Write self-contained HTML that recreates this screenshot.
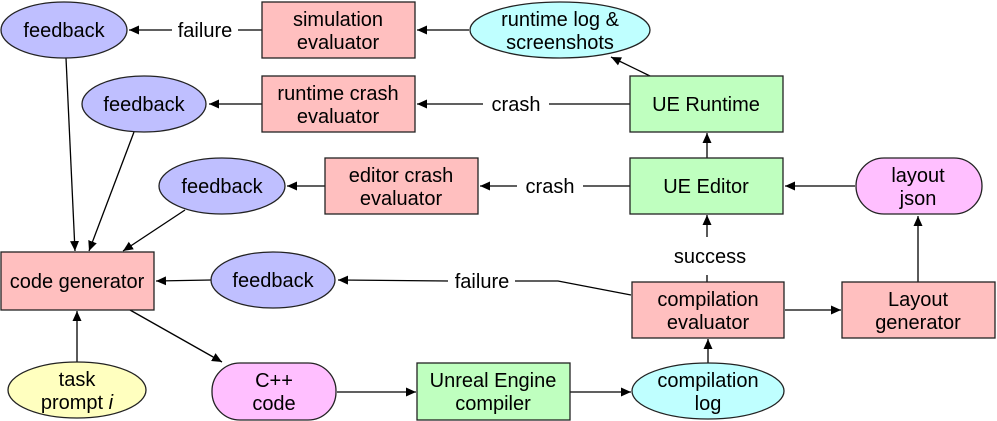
<!DOCTYPE html>
<html><head><meta charset="utf-8"><style>
html,body{margin:0;padding:0;background:#fff;}
svg{display:block;}
text{font-family:"Liberation Sans",Arial,sans-serif;font-size:20px;fill:#000;text-anchor:middle;}
.n{stroke:#222;stroke-width:1.3;}
.e{stroke:#000;stroke-width:1.3;fill:none;}
</style></head><body>
<svg width="997" height="421" viewBox="0 0 997 421" xmlns="http://www.w3.org/2000/svg">
<defs>
<marker id="a" viewBox="0 0 10 10" refX="10" refY="5" markerWidth="10" markerHeight="10" markerUnits="userSpaceOnUse" orient="auto">
<path d="M0,0.5 L10,5 L0,9.5 z" fill="#000"/></marker>
</defs>
<path class="e" d="M262,30 L238,30 M172,30 L129,30" marker-end="url(#a)"/>
<path class="e" d="M469,30 L417,30" marker-end="url(#a)"/>
<path class="e" d="M630,104 L549,104 M483,104 L417,104" marker-end="url(#a)"/>
<path class="e" d="M630,186 L583,186 M517,186 L480,186" marker-end="url(#a)"/>
<path class="e" d="M262,104 L209,104" marker-end="url(#a)"/>
<path class="e" d="M325,186 L287,186" marker-end="url(#a)"/>
<path class="e" d="M650,76 L611,57" marker-end="url(#a)"/>
<path class="e" d="M707,158 L707,133" marker-end="url(#a)"/>
<path class="e" d="M707,282 L707,275 M707,237 L707,215" marker-end="url(#a)"/>
<path class="e" d="M855,186 L785,186" marker-end="url(#a)"/>
<path class="e" d="M918,282 L918,216" marker-end="url(#a)"/>
<path class="e" d="M785,310 L841,310" marker-end="url(#a)"/>
<path class="e" d="M708,363 L708,339" marker-end="url(#a)"/>
<path class="e" d="M570,392 L631,392" marker-end="url(#a)"/>
<path class="e" d="M337,392 L416,392" marker-end="url(#a)"/>
<path class="e" d="M631,295 L558,281 L515,281 M448,281 L338,280" marker-end="url(#a)"/>
<path class="e" d="M211,280 L156,281" marker-end="url(#a)"/>
<path class="e" d="M66,58 L75,251" marker-end="url(#a)"/>
<path class="e" d="M134,132 L89,251" marker-end="url(#a)"/>
<path class="e" d="M185,210 L123,251" marker-end="url(#a)"/>
<path class="e" d="M77,362 L77,311" marker-end="url(#a)"/>
<path class="e" d="M130,310 L222,362" marker-end="url(#a)"/>
<ellipse class="n" cx="64" cy="30" rx="63" ry="28" fill="#bfbfff"/>
<ellipse class="n" cx="144" cy="104" rx="62" ry="28" fill="#bfbfff"/>
<ellipse class="n" cx="222" cy="186" rx="63" ry="28" fill="#bfbfff"/>
<ellipse class="n" cx="273" cy="280" rx="62" ry="28" fill="#bfbfff"/>
<ellipse class="n" cx="560" cy="30" rx="90" ry="28" fill="#bfffff"/>
<ellipse class="n" cx="708" cy="391" rx="76" ry="28" fill="#bfffff"/>
<ellipse class="n" cx="77" cy="390" rx="69" ry="28" fill="#ffffbf"/>
<rect class="n" x="262" y="2" width="153" height="56" fill="#ffbfbf"/>
<rect class="n" x="262" y="76" width="153" height="56" fill="#ffbfbf"/>
<rect class="n" x="325" y="158" width="153" height="56" fill="#ffbfbf"/>
<rect class="n" x="1" y="252" width="153" height="58" fill="#ffbfbf"/>
<rect class="n" x="632" y="282" width="152" height="56" fill="#ffbfbf"/>
<rect class="n" x="842" y="282" width="153" height="56" fill="#ffbfbf"/>
<rect class="n" x="630" y="76" width="153" height="56" fill="#bfffbf"/>
<rect class="n" x="630" y="158" width="153" height="56" fill="#bfffbf"/>
<rect class="n" x="417" y="363" width="153" height="57" fill="#bfffbf"/>
<rect class="n" x="856" y="158" width="126" height="56" rx="28" fill="#ffbfff"/>
<rect class="n" x="212" y="363" width="124" height="57" rx="28" fill="#ffbfff"/>
<text x="64" y="37">feedback</text>
<text x="144" y="111">feedback</text>
<text x="222" y="193">feedback</text>
<text x="273" y="287">feedback</text>
<text x="205" y="37">failure</text>
<text x="482" y="288">failure</text>
<text x="516" y="111">crash</text>
<text x="550" y="193">crash</text>
<text x="710" y="263">success</text>
<text x="338" y="26">simulation</text><text x="338" y="49">evaluator</text>
<text x="338" y="100">runtime crash</text><text x="338" y="123">evaluator</text>
<text x="401" y="182">editor crash</text><text x="401" y="205">evaluator</text>
<text x="560" y="26">runtime log &amp;</text><text x="560" y="49">screenshots</text>
<text x="706" y="111">UE Runtime</text>
<text x="706" y="193">UE Editor</text>
<text x="918" y="182">layout</text><text x="918" y="205">json</text>
<text x="77" y="288">code generator</text>
<text x="708" y="306">compilation</text><text x="708" y="329">evaluator</text>
<text x="918" y="306">Layout</text><text x="918" y="329">generator</text>
<text x="77" y="386">task</text><text x="77" y="409">prompt <tspan font-style="italic">i</tspan></text>
<text x="274" y="387">C++</text><text x="274" y="410">code</text>
<text x="493" y="387">Unreal Engine</text><text x="493" y="410">compiler</text>
<text x="708" y="387">compilation</text><text x="708" y="410">log</text>
</svg>
</body></html>
